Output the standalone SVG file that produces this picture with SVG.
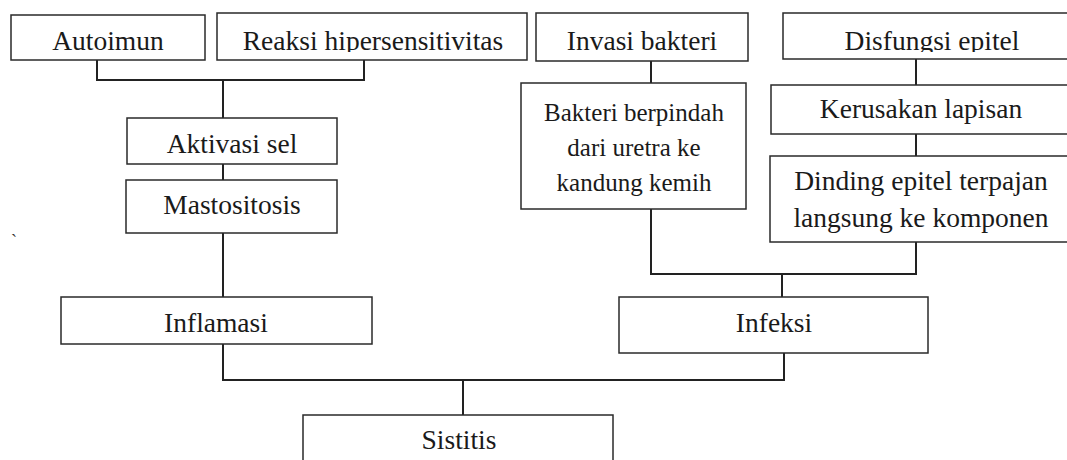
<svg xmlns="http://www.w3.org/2000/svg" width="1067" height="460" viewBox="0 0 1067 460">
<style>
.box{fill:#fff;stroke:#2a2a2a;stroke-width:1.5}
.t{font-family:'Liberation Serif','Times New Roman',Times,serif;font-size:27.5px;fill:#1a1a1a;text-anchor:middle}
.s{font-size:25px}
.c{fill:none;stroke:#222;stroke-width:2}
</style>
<defs>
<clipPath id="topclip"><rect x="0" y="0" width="1067" height="52"/></clipPath>
</defs>
<rect width="1067" height="460" fill="#fff"/>
<g id="connectors">
<path class="c" d="M97,60 V80 H364 V60 M223,80 V118"/>
<path class="c" d="M223,164 V180 M223,233 V297"/>
<path class="c" d="M651,61 V83 M916,59 V85 M916,134 V156"/>
<path class="c" d="M651,209 V274 H916 V242 M782,274 V297"/>
<path class="c" d="M223,344 V380 H784 V353 M463,380 V415"/>
</g>
<g font-family="'Liberation Serif', 'Times New Roman', Times, serif">
<g id="autoimun"><rect class="box" x="11" y="15" width="194" height="45"/><text class="t" x="108" y="50" clip-path="url(#topclip)">Autoimun</text></g>
<g id="reaksi"><rect class="box" x="217" y="13" width="310" height="47"/><text class="t" x="373" y="50" clip-path="url(#topclip)">Reaksi hipersensitivitas</text></g>
<g id="invasi"><rect class="box" x="536" y="13" width="212" height="48"/><text class="t" x="642" y="50" clip-path="url(#topclip)">Invasi bakteri</text></g>
<g id="disfungsi"><rect class="box" x="783" y="13" width="300" height="46"/><text class="t" x="932" y="50" clip-path="url(#topclip)">Disfungsi epitel</text></g>
<g id="aktivasi"><rect class="box" x="127" y="118" width="210" height="46"/><text class="t" x="232" y="153">Aktivasi sel</text></g>
<g id="mastositosis"><rect class="box" x="126" y="180" width="211" height="53"/><text class="t" x="232" y="214">Mastositosis</text></g>
<g id="bakteri"><rect class="box" x="521" y="83" width="225" height="126"/><text class="t s" x="634" y="121">Bakteri berpindah</text><text class="t s" x="634" y="156">dari uretra ke</text><text class="t s" x="634" y="191">kandung kemih</text></g>
<g id="kerusakan"><rect class="box" x="771" y="85" width="300" height="49"/><text class="t" x="921" y="118">Kerusakan lapisan</text></g>
<g id="dinding"><rect class="box" x="770" y="156" width="302" height="86"/><text class="t" x="921" y="190">Dinding epitel terpajan</text><text class="t" x="921" y="227">langsung ke komponen</text></g>
<g id="inflamasi"><rect class="box" x="61" y="297" width="311" height="47"/><text class="t" x="216" y="332">Inflamasi</text></g>
<g id="infeksi"><rect class="box" x="619" y="297" width="309" height="56"/><text class="t" x="774" y="332">Infeksi</text></g>
<g id="sistitis"><rect class="box" x="303" y="415" width="310" height="60"/><text class="t" x="459" y="449">Sistitis</text></g>
<text x="11" y="247" font-size="18" fill="#333">`</text>
</g>
</svg>
